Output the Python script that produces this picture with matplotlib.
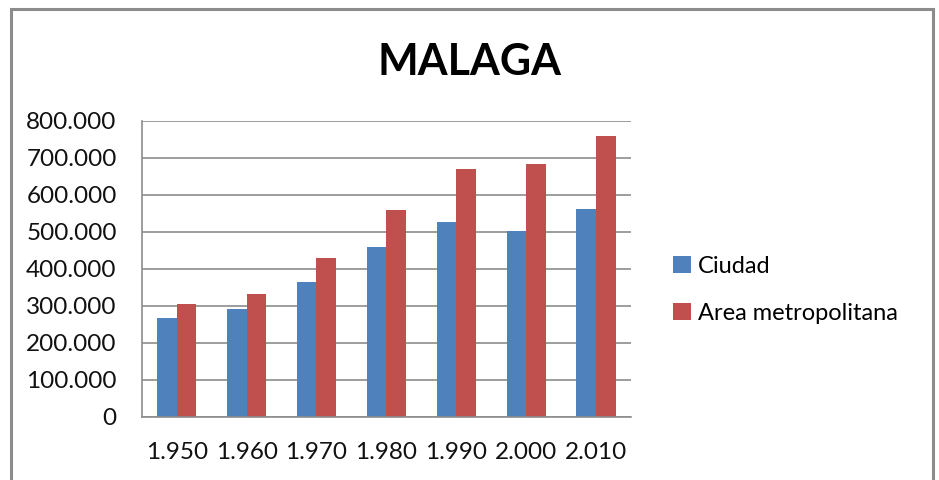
import matplotlib
matplotlib.use("Agg")
import matplotlib.pyplot as plt
from matplotlib.patches import Rectangle
from matplotlib.ticker import FuncFormatter
import numpy as np

years = ["1.950", "1.960", "1.970", "1.980", "1.990", "2.000", "2.010"]
ciudad = [266000, 291000, 364000, 458000, 526000, 502000, 561000]
area_metro = [305000, 333000, 429000, 558000, 669000, 683000, 759000]
series_names = ["Ciudad", "Area metropolitana"]

plt.rcParams['font.family'] = ['Lato', 'DejaVu Sans']

fig = plt.figure(figsize=(9.39, 4.8), dpi=100)
fig.patches.append(Rectangle((11 / 939, -0.05), 922 / 939, 1.05 - 9 / 480,
                             transform=fig.transFigure, fill=False,
                             edgecolor='#8c8c8c', lw=2.2))

ax = fig.add_axes([0.1509, 0.1319, 0.5211, 0.6161])
x = np.arange(len(years))
w = 0.28
ax.bar(x - w / 2, ciudad, w, color='#4F81BD', label=series_names[0])
ax.bar(x + w / 2, area_metro, w, color='#C0504D', label=series_names[1])

ax.set_xlim(-0.5, len(years) - 0.5)
ax.set_ylim(0, 800000)
ax.set_yticks(np.arange(0, 800001, 100000))
ax.yaxis.set_major_formatter(FuncFormatter(
    lambda v, p: '0' if v == 0 else f"{int(v):,}".replace(',', '.')))
ax.set_xticks(x)
ax.set_xticklabels(years)
ax.grid(axis='y', color='#8c8c8c', lw=1.2)
ax.set_axisbelow(True)
for s in ['top', 'right']:
    ax.spines[s].set_visible(False)
for s in ['left', 'bottom']:
    ax.spines[s].set_color('#8c8c8c')
    ax.spines[s].set_linewidth(1.2)
ax.tick_params(axis='both', length=0, labelsize=17.5, colors='#111111')
ax.tick_params(axis='y', pad=18)
ax.tick_params(axis='x', pad=18)

fig.text(0.5, 1 - 62 / 480, "MALAGA", ha='center', va='center',
         fontsize=31, fontweight='bold')

fig.legend(loc='center left', bbox_to_anchor=(652 / 939, 1 - 290 / 480),
           frameon=False, fontsize=17, handlelength=0.75, handleheight=0.75,
           handletextpad=0.3, labelspacing=1.1)

fig.savefig("out.png", dpi=100)
